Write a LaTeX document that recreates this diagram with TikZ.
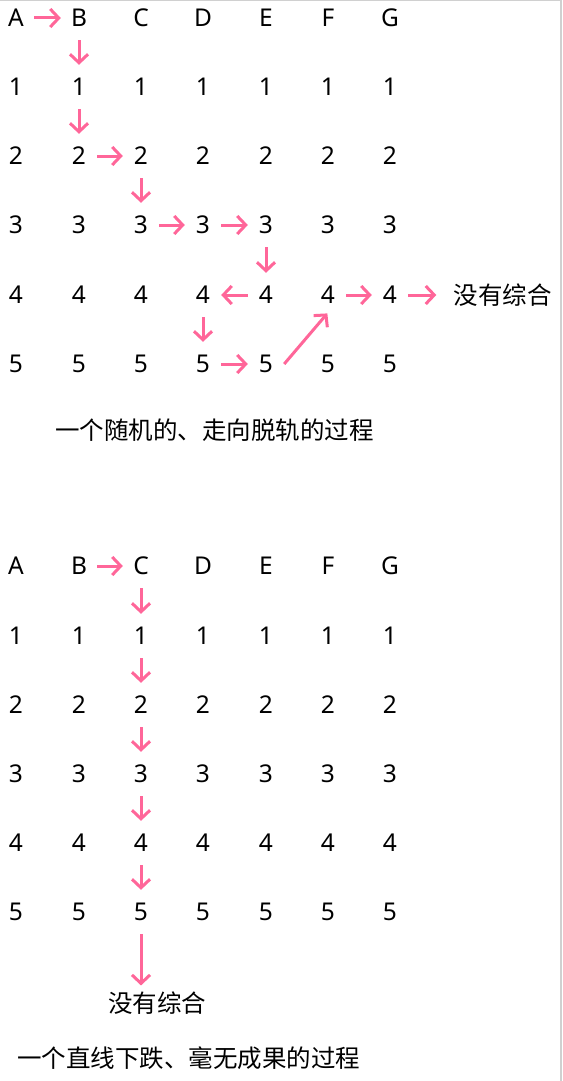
\documentclass[tikz,border=0pt]{standalone}
\usepackage{fontspec}
\setmainfont{Noto Sans}
\newfontfamily\cjk{Noto Sans CJK SC}
\usetikzlibrary{arrows.meta}
\definecolor{pk}{RGB}{255,102,153}
\definecolor{framegray}{RGB}{208,208,208}
\begin{document}
\begin{tikzpicture}[x=1pt,y=-1pt,
  cell/.style={inner sep=0pt, minimum width=36pt, minimum height=44pt, font=\fontsize{24.5pt}{28pt}\selectfont},
  zh/.style={inner sep=0pt, font=\cjk\fontsize{24.5pt}{28pt}\selectfont},
  arr/.style={draw=pk, line width=3pt, -{Straight Barb[length=8.5pt,width=18pt]}},
  ]
\useasboundingbox (0,0) rectangle (562,1081);
\draw[framegray, line width=1.5pt] (0,0.75) -- (560.75,0.75) -- (560.75,1081);
\foreach \c/\x in {A/16,B/79,C/141,D/203,E/266,F/328,G/390}{
  \node[cell] (t\c0) at (\x,18) {\c};
  \node[cell] (b\c0) at (\x,566) {\c};
  \foreach \r/\yt/\yb in {1/87/636,2/156/705,3/225/774,4/295/843,5/364/912}{
    \node[cell] (t\c\r) at (\x,\yt) {\r};
    \node[cell] (b\c\r) at (\x,\yb) {\r};
  }
}
\node[zh] (tz) at (502.5,295) {没有综合};
\node[zh] (bz) at (157,1003) {没有综合};
\node[zh, anchor=west] (cap1) at (55,430) {一个随机的、走向脱轨的过程};
\node[zh, anchor=west] (cap2) at (17,1058) {一个直线下跌、毫无成果的过程};
% top path
\draw[arr] (tA0) -- (tB0);
\draw[arr] (tB0) -- (tB1);
\draw[arr] (tB1) -- (tB2);
\draw[arr] (tB2) -- (tC2);
\draw[arr] (tC2) -- (tC3);
\draw[arr] (tC3) -- (tD3);
\draw[arr] (tD3) -- (tE3);
\draw[arr] (tE3) -- (tE4);
\draw[arr] (tE4) -- (tD4);
\draw[arr] (tD4) -- (tD5);
\draw[arr] (tD5) -- (tE5);
\draw[arr, shorten >=-5pt] (tE5.east) -- (tF4.-100);
\draw[arr] (tF4) -- (tG4);
\draw[arr, shorten >=17pt] (tG4) -- (tz);
% bottom path
\draw[arr] (bB0) -- (bC0);
\draw[arr] (bC0) -- (bC1);
\draw[arr] (bC1) -- (bC2);
\draw[arr] (bC2) -- (bC3);
\draw[arr] (bC3) -- (bC4);
\draw[arr] (bC4) -- (bC5);
\draw[arr, shorten >=6pt] (bC5) -- (bC5 |- bz.north);
\end{tikzpicture}
\end{document}
